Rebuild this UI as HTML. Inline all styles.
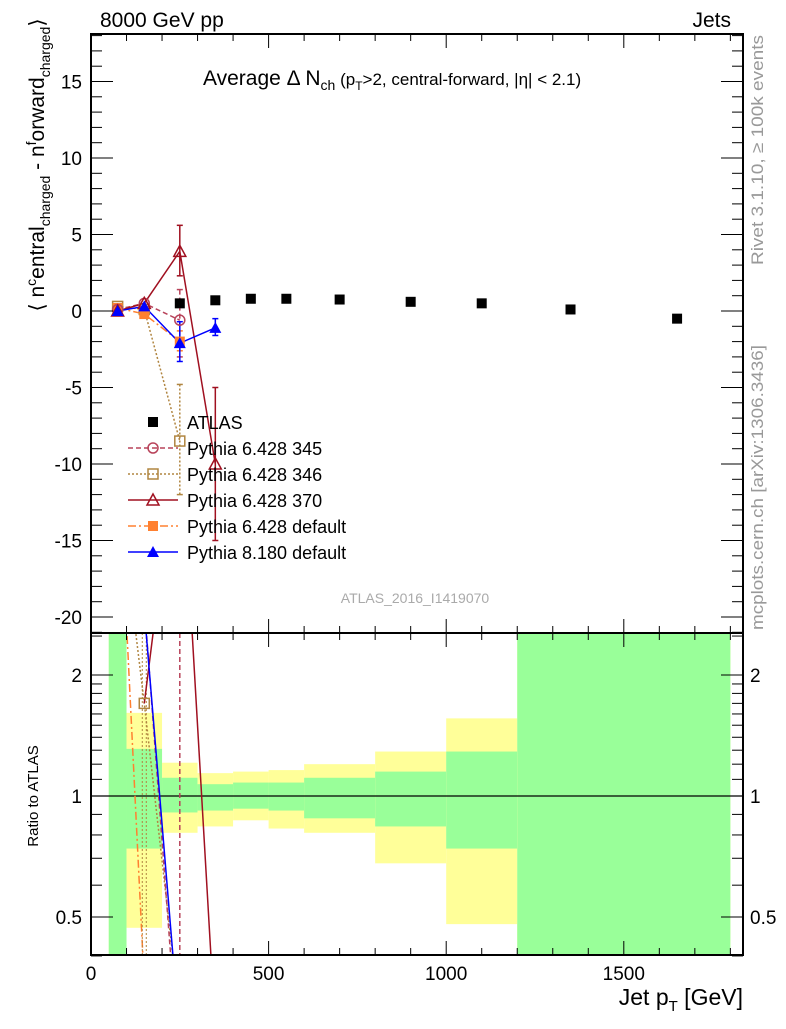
<!DOCTYPE html>
<html><head><meta charset="utf-8">
<style>
body{margin:0;background:#fff;}
svg text{font-family:"Liberation Sans",sans-serif;}
</style></head>
<body>
<svg id="c" width="786" height="1024" xmlns="http://www.w3.org/2000/svg">
<text x="100" y="27" font-size="21">8000 GeV pp</text>
<text x="731" y="27" font-size="21" text-anchor="end">Jets</text>
<text x="203" y="85" font-size="21">Average Δ N<tspan font-size="14" dy="5">ch</tspan><tspan dy="-5" font-size="17"> (p</tspan><tspan font-size="12" dy="5">T</tspan><tspan dy="-5" font-size="17">&gt;2, central-forward, |η| &lt; 2.1)</tspan></text>
<text transform="translate(763,265) rotate(-90)" font-size="17" fill="#999" textLength="230" lengthAdjust="spacingAndGlyphs">Rivet 3.1.10, ≥ 100k events</text>
<text transform="translate(763,630) rotate(-90)" font-size="17" fill="#999" textLength="285" lengthAdjust="spacingAndGlyphs">mcplots.cern.ch [arXiv:1306.3436]</text>
<text transform="translate(44,165) rotate(-90)" font-size="21" text-anchor="middle">⟨ n<tspan dy="-8" font-size="14">c</tspan><tspan dy="8">entral</tspan><tspan font-size="14" dy="6">charged</tspan><tspan dy="-6"> - n</tspan><tspan dy="-8" font-size="14">f</tspan><tspan dy="8">orward</tspan><tspan font-size="14" dy="6">charged</tspan><tspan dy="-6">⟩</tspan></text>
<text transform="translate(38,796) rotate(-90)" font-size="15" text-anchor="middle">Ratio to ATLAS</text>
<text x="743" y="1005" font-size="23" text-anchor="end">Jet p<tspan font-size="15" dy="6">T</tspan><tspan dy="-6"> [GeV]</tspan></text>
<text x="415" y="603" font-size="14" fill="#aaa" text-anchor="middle">ATLAS_2016_I1419070</text>
<g id="g"></g>
</svg>
<script>
const binLo=[50,100,200,300,400,500,600,800,1000,1200];
const binHi=[100,200,300,400,500,600,800,1000,1200,1800];
const yelHi=[3,1.61,1.21,1.14,1.15,1.16,1.20,1.29,1.56,3];
const yelLo=[0.3,0.47,0.81,0.84,0.87,0.83,0.81,0.68,0.48,0.3];
const grnHi=[3,1.31,1.11,1.07,1.08,1.08,1.11,1.15,1.29,3];
const grnLo=[0.3,0.74,0.91,0.92,0.93,0.92,0.88,0.84,0.74,0.3];
const atlasX=[250,350,450,550,700,900,1100,1350,1650];
const atlasY=[0.5,0.7,0.8,0.8,0.75,0.6,0.5,0.1,-0.5];
const p345X=[75,150,250]; const p345Y=[0.1,0.5,-0.6];
const p346X=[75,150,250]; const p346Y=[0.3,0.1,-8.5];
const p370X=[75,150,250,350]; const p370Y=[0,0.5,3.9,-10];
const p370ErrLo=[0,0,2.3,-15]; const p370ErrHi=[0,0,5.6,-5];
const p6dX=[75,150,250]; const p6dY=[0.2,-0.2,-2.0];
const p8X=[75,150,250,350]; const p8Y=[0,0.3,-2.1,-1.1];
const p8ErrLo=[0,0,-3.3,-1.6]; const p8ErrHi=[0,0,-0.7,-0.5];
const r345X=[150,250]; const r345Y=[3.0,0.2];
const r346X=[75,150,250]; const r346Y=[6,1.7,0.28];
const r370X=[150,250,350]; const r370Y=[1.7,8.6,0.26];
const r6dX=[75,150]; const r6dY=[7.5,0.34];
const r8X=[150,250]; const r8Y=[2.9,0.25];
const xTicks=[0,500,1000,1500];
const yTicks=[15,10,5,0,-5,-10,-15,-20];
const rTicks=[0.5,1,2];

const NS="http://www.w3.org/2000/svg";
const G=document.getElementById('g');
const L=91,R=743,T=34,M=633,B=955;
const X=v=>L+v*0.3552;
const Y=v=>311-v*15.3;
const RY=v=>796-Math.log2(v)*121;
function mk(t,a,name,par){const e=document.createElementNS(NS,t);for(const k in a)e.setAttribute(k,a[k]);


(par||G).appendChild(e);return e;}
const defs=mk('defs',{},'defs');
const cp=mk('clipPath',{id:'rc'},'ratio-clip',defs);
mk('rect',{x:L,y:M,width:R-L,height:B-M},'ratio-clip-rect',cp);
const rg=mk('g',{'clip-path':'url(#rc)'},'ratio-panel');
binLo.forEach((lo,i)=>{
 mk('rect',{x:X(lo),y:RY(yelHi[i]),width:X(binHi[i])-X(lo),height:RY(yelLo[i])-RY(yelHi[i]),fill:'#ffff99'},'yellow-band',rg);
 mk('rect',{x:X(lo),y:RY(grnHi[i]),width:X(binHi[i])-X(lo),height:RY(grnLo[i])-RY(grnHi[i]),fill:'#99ff99'},'green-band',rg);
});
mk('line',{x1:L,x2:R,y1:RY(1),y2:RY(1),stroke:'#000','stroke-width':1.3},'ratio-unity-line',rg);
function rline(xs,ys,col,dash,w,name){
 mk('polyline',{points:xs.map((x,i)=>X(x)+','+RY(ys[i])).join(' '),fill:'none',stroke:col,'stroke-width':w||1.5,'stroke-dasharray':dash||''},name,rg);}
const c345='#b8435a',c346='#b08540',c370='#a01020',c6d='#ff8030',c8='#0000ff';
rline(r6dX,r6dY,c6d,'8,3,2,3',1.5,'ratio-line-p6-default');
rline(r346X,r346Y,c346,'2,2',1.5,'ratio-line-p346');
mk('line',{x1:X(150)-2,x2:X(150)-2,y1:M,y2:B,stroke:c346,'stroke-dasharray':'2,2'},'ratio-err-p346',rg);
mk('line',{x1:X(150)+2,x2:X(150)+2,y1:M,y2:B,stroke:c346,'stroke-dasharray':'2,2'},'ratio-err-p346',rg);
rline(r345X,r345Y,c345,'5,3',1.5,'ratio-line-p345');
mk('line',{x1:X(250),x2:X(250),y1:M,y2:B,stroke:c345,'stroke-dasharray':'5,3','stroke-width':1.5},'ratio-err-p345',rg);
rline(r370X,r370Y,c370,'',1.5,'ratio-line-p370');
rline(r8X,r8Y,c8,'',1.5,'ratio-line-p8');
mk('rect',{x:X(150)-5,y:RY(1.7)-5,width:10,height:10,fill:'none',stroke:c346,'stroke-width':1.5},'ratio-marker-p346',rg);

function line(xs,ys,col,dash,name){
 mk('polyline',{points:xs.map((x,i)=>X(x)+','+Y(ys[i])).join(' '),fill:'none',stroke:col,'stroke-width':1.5,'stroke-dasharray':dash||''},name);}
function err(x,lo,hi,col,dash,name){mk('line',{x1:X(x),x2:X(x),y1:Y(lo),y2:Y(hi),stroke:col,'stroke-width':1.5,'stroke-dasharray':dash||''},name);
 mk('line',{x1:X(x)-3,x2:X(x)+3,y1:Y(lo),y2:Y(lo),stroke:col,'stroke-width':1.5},name+'-cap');
 mk('line',{x1:X(x)-3,x2:X(x)+3,y1:Y(hi),y2:Y(hi),stroke:col,'stroke-width':1.5},name+'-cap');}
function marker(type,cx,cy,col,name){
 if(type==='sq')mk('rect',{x:cx-5,y:cy-5,width:10,height:10,fill:col},name);
 if(type==='osq')mk('rect',{x:cx-5,y:cy-5,width:10,height:10,fill:'none',stroke:col,'stroke-width':1.5},name);
 if(type==='oc')mk('circle',{cx:cx,cy:cy,r:5,fill:'none',stroke:col,'stroke-width':1.5},name);
 if(type==='tri')mk('polygon',{points:`${cx-6},${cy+5} ${cx+6},${cy+5} ${cx},${cy-6}`,fill:col},name);
 if(type==='otri')mk('polygon',{points:`${cx-6},${cy+5} ${cx+6},${cy+5} ${cx},${cy-6}`,fill:'none',stroke:col,'stroke-width':1.5},name);}
line(p346X,p346Y,c346,'2,2','line-p346');
err(250,-4.8,-12,c346,'2,2','err-p346');
line(p6dX,p6dY,c6d,'8,3,2,3','line-p6-default');
err(250,-1.3,-2.6,c6d,'','err-p6-default');
line(p345X,p345Y,c345,'5,3','line-p345');
err(250,1.4,-3,c345,'5,3','err-p345');
line(p370X,p370Y,c370,'','line-p370');
p370X.forEach((x,i)=>{if(p370ErrHi[i]!==p370ErrLo[i])err(x,p370ErrLo[i],p370ErrHi[i],c370,'','err-p370');});
line(p8X,p8Y,c8,'','line-p8');
p8X.forEach((x,i)=>{if(p8ErrHi[i]!==p8ErrLo[i])err(x,p8ErrLo[i],p8ErrHi[i],c8,'','err-p8');});
atlasX.forEach((x,i)=>marker('sq',X(x),Y(atlasY[i]),'#000','atlas-point'));
p346X.forEach((x,i)=>marker('osq',X(x),Y(p346Y[i]),c346,'marker-p346'));
p6dX.forEach((x,i)=>marker('sq',X(x),Y(p6dY[i]),c6d,'marker-p6-default'));
p345X.forEach((x,i)=>marker('oc',X(x),Y(p345Y[i]),c345,'marker-p345'));
p370X.forEach((x,i)=>marker('otri',X(x),Y(p370Y[i]),c370,'marker-p370'));
p8X.forEach((x,i)=>marker('tri',X(x),Y(p8Y[i]),c8,'marker-p8'));

const leg=[['ATLAS','sq','#000',''],['Pythia 6.428 345','oc',c345,'5,3'],['Pythia 6.428 346','osq',c346,'2,2'],['Pythia 6.428 370','otri',c370,''],['Pythia 6.428 default','sq',c6d,'8,3,2,3'],['Pythia 8.180 default','tri',c8,'']];
leg.forEach((l,i)=>{const y=422+i*26;
 if(i>0)mk('line',{x1:128,x2:178,y1:y,y2:y,stroke:l[2],'stroke-width':1.5,'stroke-dasharray':l[3]},'legend-line');
 marker(l[1],153,y,l[2],'legend-marker');
 const t=mk('text',{x:187,y:y+7,'font-size':18},'legend-entry');t.textContent=l[0];});

mk('rect',{x:L,y:T,width:R-L,height:M-T,fill:'none',stroke:'#000','stroke-width':2},'main-frame');
mk('rect',{x:L,y:M,width:R-L,height:B-M,fill:'none',stroke:'#000','stroke-width':2},'ratio-frame');
for(let v=0;v<=1800;v+=100){const big=v%500===0,x=X(v);
 [[T,1],[M,-1],[M,1],[B,-1]].forEach(([y0,d])=>mk('line',{x1:x,x2:x,y1:y0,y2:y0+d*(big?14:7),stroke:'#000'},'x-tick'));}
xTicks.forEach(v=>{const t=mk('text',{x:X(v),y:980,'font-size':19,'text-anchor':'middle'},'x-tick-label');t.textContent=v;});
for(let v=-21;v<=18;v++){const big=v%5===0,y=Y(v);
 mk('line',{x1:L,x2:L+(big?22:11),y1:y,y2:y,stroke:'#000'},'y-tick');
 mk('line',{x1:R,x2:R-(big?22:11),y1:y,y2:y,stroke:'#000'},'y-tick');}
yTicks.forEach(v=>{const t=mk('text',{x:82,y:Y(v)+7,'font-size':19,'text-anchor':'end'},'y-tick-label');t.textContent=v;});
[0.4,0.5,0.6,0.7,0.8,0.9,1,1.1,1.2,1.3,1.4,1.5,1.6,1.7,1.8,1.9,2,2.5].forEach(v=>{const big=rTicks.includes(v),y=RY(v);
 mk('line',{x1:L,x2:L+(big?22:11),y1:y,y2:y,stroke:'#000'},'ratio-tick');
 mk('line',{x1:R,x2:R-(big?22:11),y1:y,y2:y,stroke:'#000'},'ratio-tick');});
rTicks.forEach(v=>{let t=mk('text',{x:82,y:RY(v)+7,'font-size':19,'text-anchor':'end'},'ratio-tick-label');t.textContent=v;
 t=mk('text',{x:750,y:RY(v)+7,'font-size':19},'ratio-tick-label-right');t.textContent=v;});
</script>
</body></html>
